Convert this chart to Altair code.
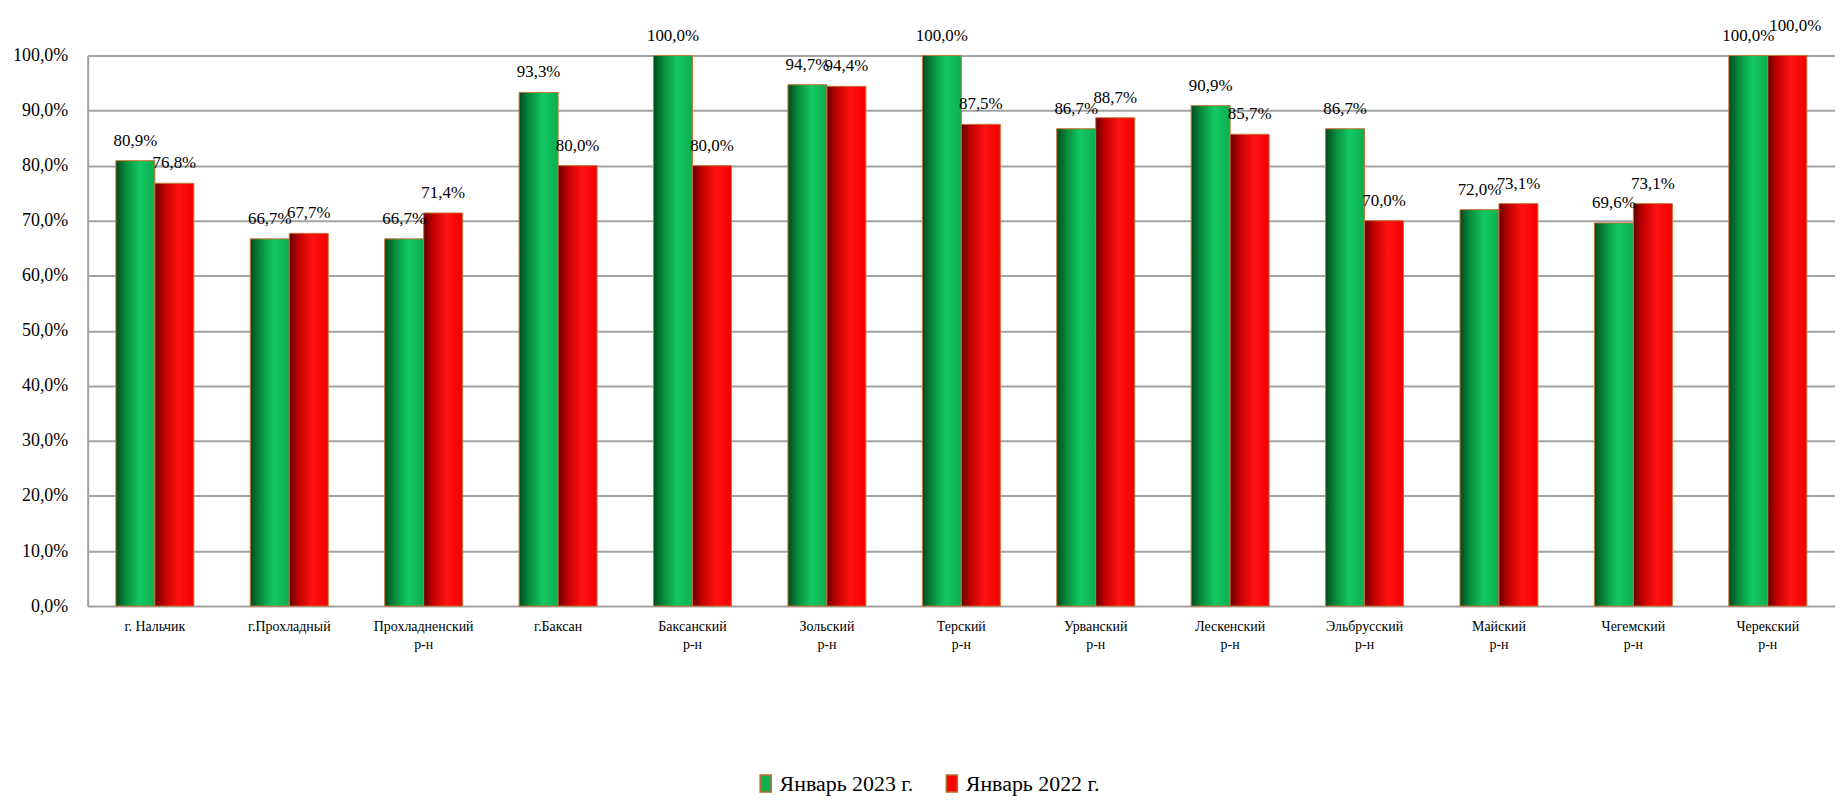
import altair as alt
import pandas as pd

categories = ["г. Нальчик", "г.Прохладный", "Прохладненский|р-н", "г.Баксан",
              "Баксанский|р-н", "Зольский|р-н", "Терский|р-н", "Урванский|р-н",
              "Лескенский|р-н", "Эльбрусский|р-н", "Майский|р-н", "Чегемский|р-н",
              "Черекский|р-н"]
series_names = ["Январь 2023 г.", "Январь 2022 г."]
jan_2023 = [80.9, 66.7, 66.7, 93.3, 100.0, 94.7, 100.0, 86.7, 90.9, 86.7, 72.0, 69.6, 100.0]
jan_2022 = [76.8, 67.7, 71.4, 80.0, 80.0, 94.4, 87.5, 88.7, 85.7, 70.0, 73.1, 73.1, 100.0]

rows = []
for c, a, b in zip(categories, jan_2023, jan_2022):
    rows.append({"cat": c, "series": series_names[0], "value": a / 100})
    rows.append({"cat": c, "series": series_names[1], "value": b / 100})
df = pd.DataFrame(rows)

FONT = "Liberation Serif"

x_enc = alt.X("cat:N", sort=categories,
              scale=alt.Scale(paddingInner=0.42, paddingOuter=0.21),
              axis=alt.Axis(title=None, labelAngle=0, ticks=False, domain=False,
                            labelExpr="split(datum.label, '|')",
                            labelFont=FONT, labelFontSize=14, labelColor="#000000",
                            labelLineHeight=19, labelPadding=13, labelLimit=300))
xo_enc = alt.XOffset("series:N", sort=series_names,
                     scale=alt.Scale(domain=series_names, paddingInner=0, paddingOuter=0))
y_enc = alt.Y("value:Q",
              scale=alt.Scale(domain=[0, 1], nice=False),
              axis=alt.Axis(title=None, values=[i / 10 for i in range(11)],
                            labelExpr="replace(format(datum.value*100, '.1f'), '.', ',') + '%'",
                            labelFont=FONT, labelFontSize=18, labelColor="#000000",
                            labelPadding=20, ticks=False,
                            domain=True, domainColor="#A0A0A0", domainWidth=2,
                            grid=True, gridColor="#A3A3A3", gridWidth=2))

green_grad = alt.Gradient(gradient="linear", x1=0, x2=1, y1=0, y2=0, stops=[
    alt.GradientStop(offset=0, color="#004A1E"),
    alt.GradientStop(offset=0.25, color="#078A3C"),
    alt.GradientStop(offset=0.6, color="#12C862"),
    alt.GradientStop(offset=1, color="#0BAE50"),
])
red_grad = alt.Gradient(gradient="linear", x1=0, x2=1, y1=0, y2=0, stops=[
    alt.GradientStop(offset=0, color="#650000"),
    alt.GradientStop(offset=0.25, color="#C20000"),
    alt.GradientStop(offset=0.6, color="#FF1212"),
    alt.GradientStop(offset=1, color="#F20000"),
])

base = alt.Chart(df)

green_bars = base.transform_filter(alt.datum.series == series_names[0]).mark_bar(
    fill=green_grad, stroke="#C87533", strokeWidth=1
).encode(x=x_enc, xOffset=xo_enc, y=y_enc)

red_bars = base.transform_filter(alt.datum.series == series_names[1]).mark_bar(
    fill=red_grad, stroke="#C87533", strokeWidth=1
).encode(x=x_enc, xOffset=xo_enc, y=y_enc)

lbl_base = base.transform_calculate(
    lbl="replace(format(datum.value*100, '.1f'), '.', ',') + '%'"
).transform_joinaggregate(
    vmin="min(value)", vmax="max(value)", groupby=["cat"]
).transform_calculate(tie="datum.vmax - datum.vmin < 0.001")

txt = dict(font=FONT, fontSize=17, color="#000000", baseline="alphabetic")

labels_green = lbl_base.transform_filter(alt.datum.series == series_names[0]).mark_text(
    dy=-15, **txt).encode(x=x_enc, xOffset=xo_enc, y=y_enc, text="lbl:N")
labels_red = lbl_base.transform_filter(
    (alt.datum.series == series_names[1]) & (~alt.datum.tie)).mark_text(
    dy=-15, **txt).encode(x=x_enc, xOffset=xo_enc, y=y_enc, text="lbl:N")
labels_red_tie = lbl_base.transform_filter(
    (alt.datum.series == series_names[1]) & alt.datum.tie).mark_text(
    dy=-25, dx=8, **txt).encode(x=x_enc, xOffset=xo_enc, y=y_enc, text="lbl:N")

legend_layer = base.mark_square(opacity=0, size=1).encode(
    x=x_enc, xOffset=xo_enc, y=alt.Y("value:Q"),
    color=alt.Color("series:N", sort=series_names,
                    scale=alt.Scale(domain=series_names, range=["#12B050", "#FF0000"]),
                    legend=alt.Legend(title=None, orient="none", direction="horizontal",
                                      legendX=670, legendY=720,
                                      symbolType="M-0.65,-1H0.65V1H-0.65Z",
                                      symbolSize=289, symbolOpacity=1,
                                      symbolStrokeColor="#B8692A", symbolStrokeWidth=1.5,
                                      labelFont=FONT, labelFontSize=22, labelColor="#000000",
                                      labelOffset=3, columnPadding=27, labelLimit=400)))

chart = alt.layer(green_bars, red_bars, labels_green, labels_red, labels_red_tie,
                  legend_layer).properties(
    width=1755, height=553,
    padding={"left": 80, "top": 46, "right": 0, "bottom": 190},
    autosize=alt.AutoSizeParams(type="none"),
).configure_view(fill="#FCF7F1", stroke=None).configure(background="#FFFFFF")

chart.save("out.html", embed_options={"renderer": "svg", "actions": False})
